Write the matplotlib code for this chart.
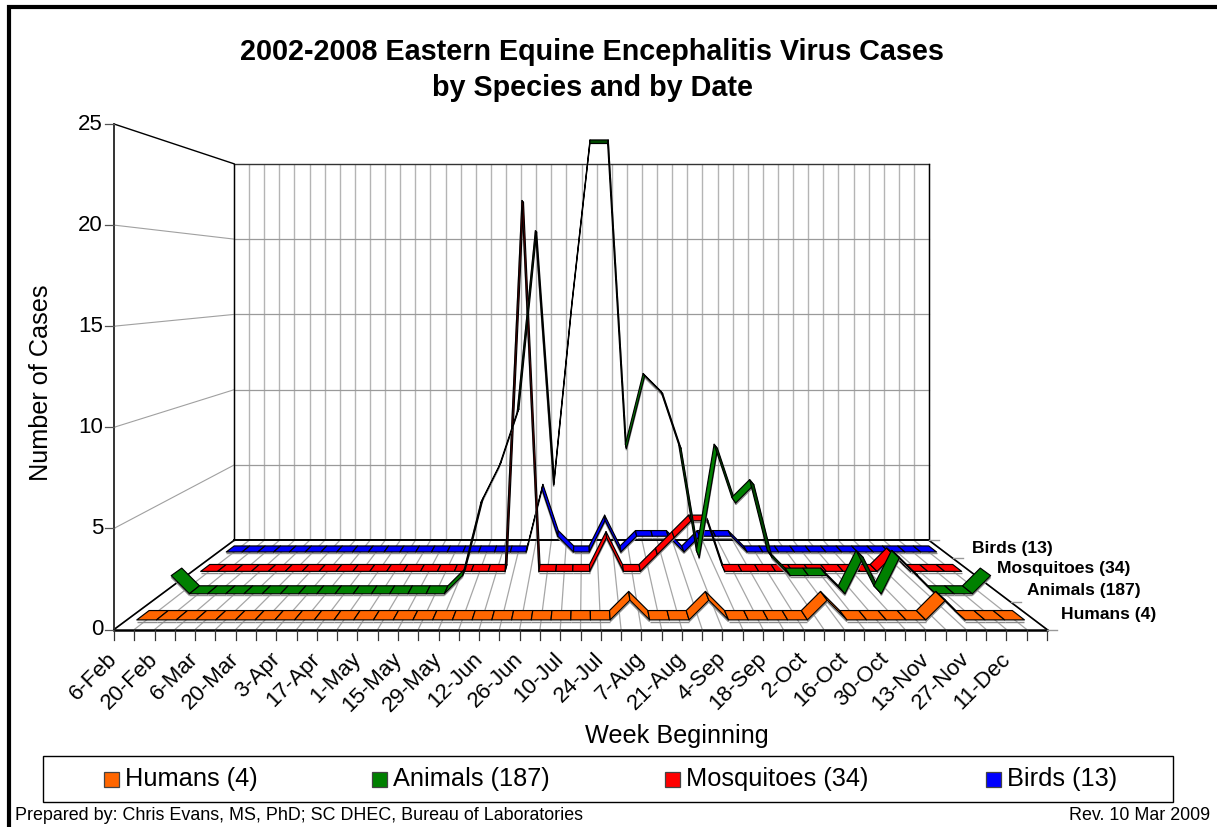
import numpy as np
import matplotlib
matplotlib.use("Agg")
import matplotlib.pyplot as plt
from matplotlib.patches import Polygon, Rectangle

plt.rcParams['font.family'] = ['Liberation Sans', 'DejaVu Sans']

# ---------- data ----------
weeks = ['6-Feb', '13-Feb', '20-Feb', '27-Feb', '6-Mar', '13-Mar', '20-Mar', '27-Mar', '3-Apr', '10-Apr',
         '17-Apr', '24-Apr', '1-May', '8-May', '15-May', '22-May', '29-May', '5-Jun', '12-Jun', '19-Jun',
         '26-Jun', '3-Jul', '10-Jul', '17-Jul', '24-Jul', '31-Jul', '7-Aug', '14-Aug', '21-Aug', '28-Aug',
         '4-Sep', '11-Sep', '18-Sep', '25-Sep', '2-Oct', '9-Oct', '16-Oct', '23-Oct', '30-Oct', '6-Nov',
         '13-Nov', '20-Nov', '27-Nov', '4-Dec', '11-Dec', '18-Dec']
humans = [0]*25 + [1, 0, 0, 0, 1, 0, 0, 0, 0, 0, 1, 0, 0, 0, 0, 0, 1, 0, 0, 0, 0]
animals = [1] + [0]*15 + [1, 5, 7, 10, 20, 6, 16, 25, 25, 8, 12, 11, 8, 2, 8, 5, 6, 2, 1, 1, 1, 0, 2, 0, 2, 1, 0, 0, 0, 1]
mosquitoes = [0]*19 + [22, 0, 0, 0, 0, 2, 0, 0, 1, 2, 3, 3] + [0]*10 + [1, 0, 0, 0, 0]
birds = [0]*20 + [4, 1, 0, 0, 2, 0, 1, 1, 1, 0, 1, 1, 1] + [0]*13
series_names = ['Humans (4)', 'Animals (187)', 'Mosquitoes (34)', 'Birds (13)']
series_values = [humans, animals, mosquitoes, birds]
series_colors = ['#FF6600', '#008000', '#FF0000', '#0000FF']
series_dark = ['#803300', '#004A00', '#800000', '#000080']
y_ticks = [0, 5, 10, 15, 20, 25]

# ---------- chart projection (Excel-style 3-D perspective) ----------
X0, X1, Y0, YTOP = 114.0, 1047.0, 629.5, 124.0
VX, VY, K = 584.6, 280.0, 0.0856
N = len(weeks)
PER_UNIT = (Y0 - YTOP) / 25.0


def proj(c, v, z):
    """category boundary c, value v, depth z -> canvas position"""
    c, v, z = np.asarray(c, float), np.asarray(v, float), np.asarray(z, float)
    s = 1.0 / (1.0 + K * z)
    x = X0 + c * (X1 - X0) / N
    y = Y0 - v * PER_UNIT
    return VX + s * (x - VX), VY + s * (y - VY)


fig = plt.figure(figsize=(12.17, 8.27), dpi=100)
ax = fig.add_axes([0, 0, 1, 1])
ax.set_xlim(0, 1217)
ax.set_ylim(827, 0)
ax.axis('off')

# outer frame
ax.plot([8.5, 8.5, 1230], [840, 7, 7], color='black', lw=3.0, zorder=1, solid_joinstyle='miter')

GRID = '#B4B4B4'
GRIDH = '#9A9A9A'
# back wall & floor gridlines
for c in range(N + 1):
    x, y = proj([c, c], [0, 25], [4, 4])
    ax.plot(x, y, color=GRID, lw=1.0, zorder=2, solid_capstyle='butt')
    x, y = proj([c, c], [0, 0], [0, 4])
    ax.plot(x, y, color='#A6A6A6', lw=0.9, zorder=2, solid_capstyle='butt')
for v in y_ticks[1:-1]:
    x, y = proj([0, N], [v, v], [4, 4])
    ax.plot(x, y, color=GRIDH, lw=0.9, zorder=2.1)
    x, y = proj([0, 0], [v, v], [0, 4])
    ax.plot(x, y, color='#A0A0A0', lw=0.8, zorder=2.1)

# frame of wall and floor
for cs, vs, zs, lw, col in [
    ([0, 0], [25, 25], [0, 4], 1.0, 'black'),
    ([0, N], [25, 25], [4, 4], 1.0, '#333333'),
    ([0, 0], [0, 25], [4, 4], 1.0, 'black'),
    ([N, N], [0, 25], [4, 4], 1.0, 'black'),
    ([0, N], [0, 0], [4, 4], 1.4, 'black'),
    ([0, 0], [0, 0], [0, 4], 1.2, 'black'),
    ([N, N], [0, 0], [0, 4], 1.2, 'black'),
    ([0, 0], [0, 25], [0, 0], 1.4, '#333333'),
    ([0, N], [0, 0], [0, 0], 1.8, 'black'),
]:
    x, y = proj(cs, vs, zs)
    ax.plot(x, y, color=col, lw=lw, zorder=3, solid_capstyle='projecting')

# y ticks + labels
for v in y_ticks:
    x, y = proj(0, v, 0)
    ax.plot([x - 9, x], [y, y], color='#555555', lw=0.9, zorder=3)
    ax.text(x - 11, y, str(v), ha='right', va='center', fontsize=16, color='black')

# category ticks
for c in range(N + 1):
    x, y = proj(c, 0, 0)
    ax.plot([x, x], [y, y + 10], color='#333333', lw=0.9, zorder=3)
for c in range(0, N, 2):
    x, y = proj(c, 0, 0)
    ax.text(x - 7, y + 19, weeks[c], rotation=45, rotation_mode='anchor', ha='right', va='top',
            fontsize=16, color='black')

# depth ticks
for z in range(5):
    x, y = proj(N, 0, z)
    ax.plot([x, x + 10], [y, y], color='#999999', lw=1.0, zorder=3)

# ribbons, from back to front
Z_NEAR, Z_FAR = 0.33, 0.67
for i in [3, 2, 1, 0]:
    vals = series_values[i]
    base = 4 + (3 - i) * 2
    for c in range(N - 1):
        cc = np.array([c + .5, c + 1.5, c + 1.5, c + .5])
        vv = np.array([vals[c], vals[c + 1], vals[c + 1], vals[c]], float)
        zz = np.array([i + Z_NEAR, i + Z_NEAR, i + Z_FAR, i + Z_FAR])
        x, y = proj(cc, vv, zz)
        # orientation of the quad tells whether the top or underside faces us
        area = 0.5 * np.sum(x * np.roll(y, -1) - np.roll(x, -1) * y)
        face = series_colors[i] if area < 0 else series_dark[i]
        xs, ys = proj(cc[:2], vv[:2] - 0.09, zz[:2])
        ax.plot(xs, ys, color='#8C8C8C', lw=1.0, zorder=base, solid_capstyle='butt')
        ax.add_patch(Polygon(np.column_stack([x, y]), closed=True, fc=face, ec='black', lw=0.85,
                             joinstyle='round', zorder=base + 0.5))

# titles
ax.text(592, 70, '2002-2008 Eastern Equine Encephalitis Virus Cases\nby Species and by Date', ha='center',
        va='center', fontsize=20.7, fontweight='bold', linespacing=1.36)
ax.text(41, 383, 'Number of Cases', rotation=90, ha='center', va='center', fontsize=18.2)
ax.text(677, 736, 'Week Beginning', ha='center', va='center', fontsize=18.2)

# series labels
for name, px, py in [('Birds (13)', 972, 549), ('Mosquitoes (34)', 997, 568),
                     ('Animals (187)', 1027, 590), ('Humans (4)', 1061, 615)]:
    ax.text(px, py, name, ha='left', va='center', fontsize=12.6, fontweight='bold', zorder=20)

# legend
ax.add_patch(Rectangle((43, 755.5), 1130, 46.5, fc='white', ec='black', lw=1.0, zorder=5))
for name, col, px in zip(series_names, series_colors, [104, 372, 665, 986]):
    ax.add_patch(Rectangle((px, 772), 15, 15, fc=col, ec='#444444', lw=0.9, zorder=6))
    ax.text(px + 21, 779, name, ha='left', va='center', fontsize=18.3, zorder=6)

# footer
ax.text(15, 815, 'Prepared by: Chris Evans, MS, PhD; SC DHEC, Bureau of Laboratories', ha='left', va='center',
        fontsize=12.9)
ax.text(1210, 815, 'Rev. 10 Mar 2009', ha='right', va='center', fontsize=12.9)

fig.savefig('out.png', dpi=100)
